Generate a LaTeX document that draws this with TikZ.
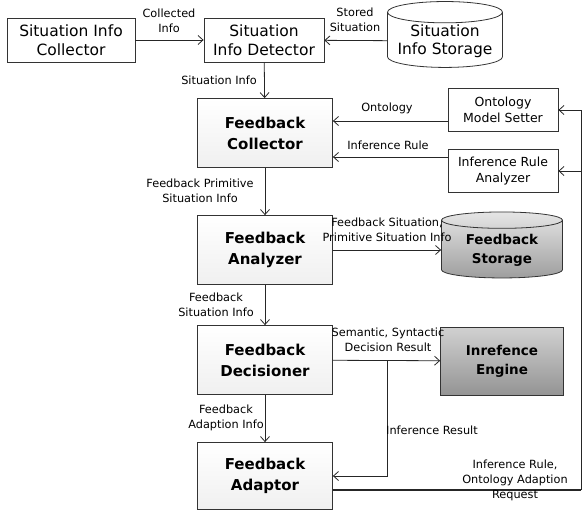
\documentclass[tikz,border=0pt]{standalone}
\usepackage{fontspec}
\setmainfont{DejaVu Sans}
\usepackage{tikz}
\usetikzlibrary{shapes.geometric, arrows.meta}

\begin{document}
\begin{tikzpicture}[x=1pt, y=-1pt,
  box/.style={draw=black!80, line width=0.8pt, align=center, inner sep=1pt,
    font=\fontsize{15.5}{18.5}\selectfont},
  smallbox/.style={box, font=\fontsize{12.5}{16}\selectfont},
  fbbox/.style={box, top color=white, bottom color=black!6,
    minimum width=135, minimum height=69, font=\bfseries\fontsize{15}{21}\selectfont},
  store/.style={cylinder, shape border rotate=90, aspect=0.22, draw=black!80,
    line width=0.8pt, align=center, inner sep=1pt},
  lbl/.style={align=center, inner sep=0pt, font=\fontsize{11.3}{15}\selectfont},
  flow/.style={draw=black!85, line width=0.8pt, -{Straight Barb[length=5pt, width=9pt]}}]

\useasboundingbox (0, 0) rectangle (583, 513);

% top row
\node (sicol) at (71, 40) [box, minimum width=128, minimum height=44] {Situation Info\\Collector};
\node (sidet) at (264, 40) [box, minimum width=120, minimum height=44] {Situation\\Info Detector};
\node (sistore) at (445, 41) [store, minimum width=115, minimum height=54,
  font=\fontsize{15.5}{18.5}\selectfont] {Situation\\Info Storage};

% feedback chain
\node (fcol) at (265, 133) [fbbox] {Feedback\\Collector};
\node (fana) at (265, 250) [fbbox] {Feedback\\Analyzer};
\node (fdec) at (265, 360) [fbbox] {Feedback\\Decisioner};
\node (fadp) at (265, 476) [fbbox, minimum height=67] {Feedback\\Adaptor};

% right side
\node (onto) at (503, 110) [smallbox, minimum width=110, minimum height=43] {Ontology\\Model Setter};
\node (irana) at (503, 171) [smallbox, minimum width=110, minimum height=43] {Inference Rule\\Analyzer};
\node (fstore) at (502, 250) [store, minimum width=121, minimum height=66,
  top color=black!10, bottom color=black!38, font=\bfseries\fontsize{13.5}{19}\selectfont] {Feedback\\Storage};
\node (ieng) at (502, 361) [box, minimum width=123, minimum height=68,
  top color=black!18, bottom color=black!42, font=\bfseries\fontsize{13.5}{19}\selectfont] {Inrefence\\Engine};

\coordinate (br) at (387, 360);
\coordinate (rq) at (581, 490);

% connectors
\draw[flow] (sicol) -- (sidet);
\draw[flow] (sistore) -- (sidet);
\draw[flow] (sidet) -- (fcol);
\draw[flow] (onto.west |- 0, 121) -- (fcol.east |- 0, 121);
\draw[flow] (irana.west |- 0, 157) -- (fcol.east |- 0, 157);
\draw[flow] (fcol) -- (fana);
\draw[flow] (fana) -- (fstore);
\draw[flow] (fana) -- (fdec);
\draw[flow] (fdec) -- (ieng);
\draw[flow] (fdec) -- (fadp);
\draw[flow] (br) |- (fadp.east);
\draw[draw=black!85, line width=2pt] (fadp.east |- rq) -- (rq);
\draw[flow] (rq) |- (onto);
\draw[flow] (rq |- irana) -- (irana);

% labels
\node (lcoll) at (169, 21) [lbl] {Collected\\Info};
\node (lstored) at (355, 20) [lbl] {Stored\\Situation};
\node (lsit) at (219, 80) [lbl] {Situation Info};
\node (lonto) at (387, 108) [lbl] {Ontology};
\node (lrule) at (388, 145) [lbl] {Inference Rule};
\node (lprim) at (200, 191) [lbl] {Feedback Primitive\\Situation Info};
\node (lfbsit) at (387, 230) [lbl] {Feedback Situation,\\Primitive Situation Info};
\node (lfbinfo) at (216, 305) [lbl] {Feedback\\Situation Info};
\node (lsem) at (388, 340) [lbl] {Semantic, Syntactic\\Decision Result};
\node (ladp) at (226, 418) [lbl] {Feedback\\Adaption Info};
\node (lres) at (386, 430) [lbl, anchor=west] {Inference Result};
\node (lreq) at (515, 480) [lbl] {Inference Rule,\\Ontology Adaption\\Request};
\end{tikzpicture}
\end{document}
